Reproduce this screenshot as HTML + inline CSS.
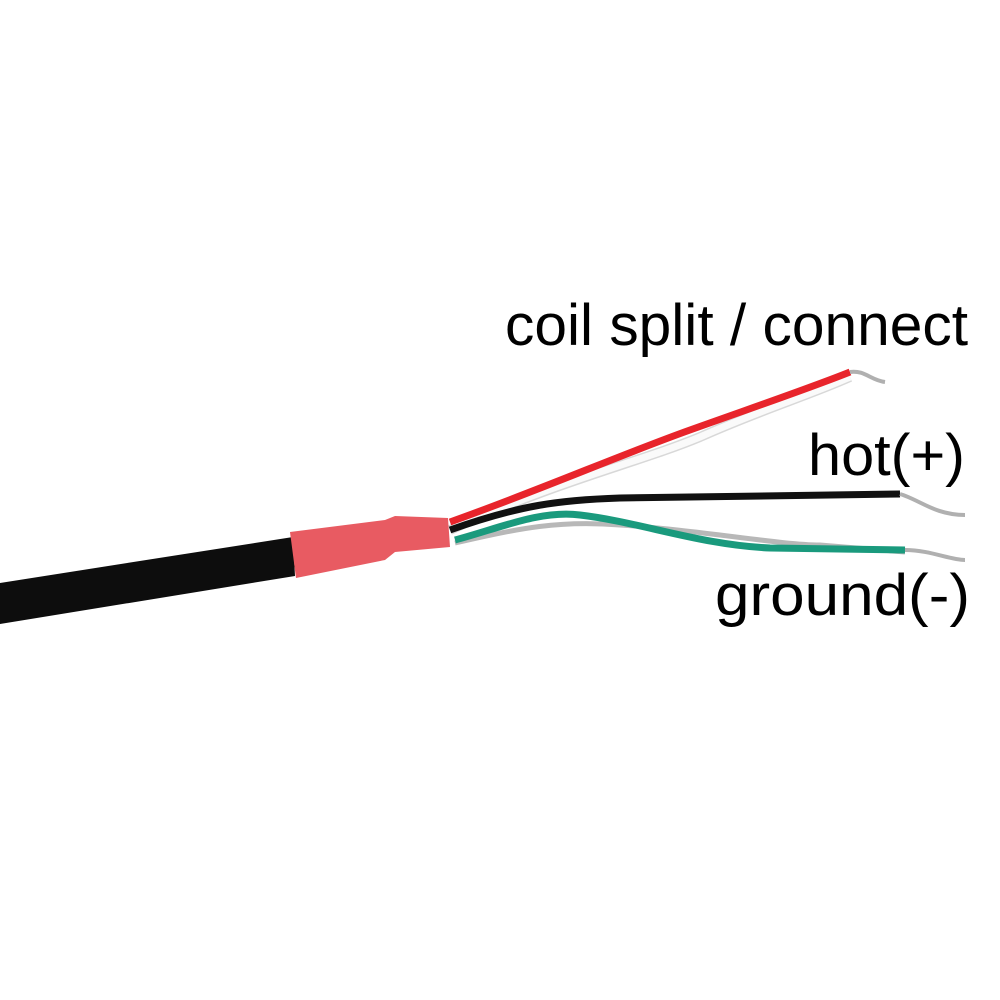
<!DOCTYPE html>
<html><head><meta charset="utf-8"><style>
html,body{margin:0;padding:0;background:#fff;}
svg{display:block}
text{font-family:"Liberation Sans",sans-serif;fill:#000;}
</style></head><body>
<svg width="1000" height="1000" viewBox="0 0 1000 1000" xmlns="http://www.w3.org/2000/svg">
<rect width="1000" height="1000" fill="#fff"/>
<!-- wires -->
<path d="M450 530 C560 480 640 462 700 437 C760 410 810 395 850 377" stroke="#d8d8d8" stroke-width="10" fill="none"/>
<path d="M450 530 C560 480 640 462 700 437 C760 410 810 395 850 377" stroke="#fafafa" stroke-width="7" fill="none"/>
<path d="M450 522 C540 490 620 455 690 430 C760 405 810 388 850 372" stroke="#e8242b" stroke-width="7" fill="none"/>
<path d="M450 530 C520 505 560 500 620 498 L900 494" stroke="#111" stroke-width="7" fill="none"/>
<path d="M900 494 C920 500 935 515 965 515" stroke="#b0b0b0" stroke-width="4" fill="none"/>
<path d="M455 543 C520 528 560 520 620 525 C700 530 780 545 820 545 L905 552" stroke="#b8b8b8" stroke-width="5" fill="none"/>
<path d="M455 540 C500 528 540 510 580 515 C640 522 700 545 770 548 L905 550" stroke="#1a9a7d" stroke-width="7" fill="none"/>
<path d="M905 550 C930 550 950 560 965 560" stroke="#b0b0b0" stroke-width="4" fill="none"/>
<path d="M850 372 C865 370 870 380 885 382" stroke="#b0b0b0" stroke-width="4" fill="none"/>
<!-- cable -->
<path d="M0 583 L293 537 L295 576 L0 624 Z" fill="#0d0d0d"/>
<!-- sleeve -->
<path d="M290 532 L385 520 L395 516 L448 518 L450 547 L395 552 L385 560 L296 578 Z" fill="#e85b62"/>
<text x="505" y="345" font-size="58" textLength="463" lengthAdjust="spacingAndGlyphs">coil split / connect</text>
<text x="808" y="475" font-size="58" textLength="157" lengthAdjust="spacingAndGlyphs">hot(+)</text>
<text x="715" y="615" font-size="58" textLength="255" lengthAdjust="spacingAndGlyphs">ground(-)</text>
</svg>
</body></html>
